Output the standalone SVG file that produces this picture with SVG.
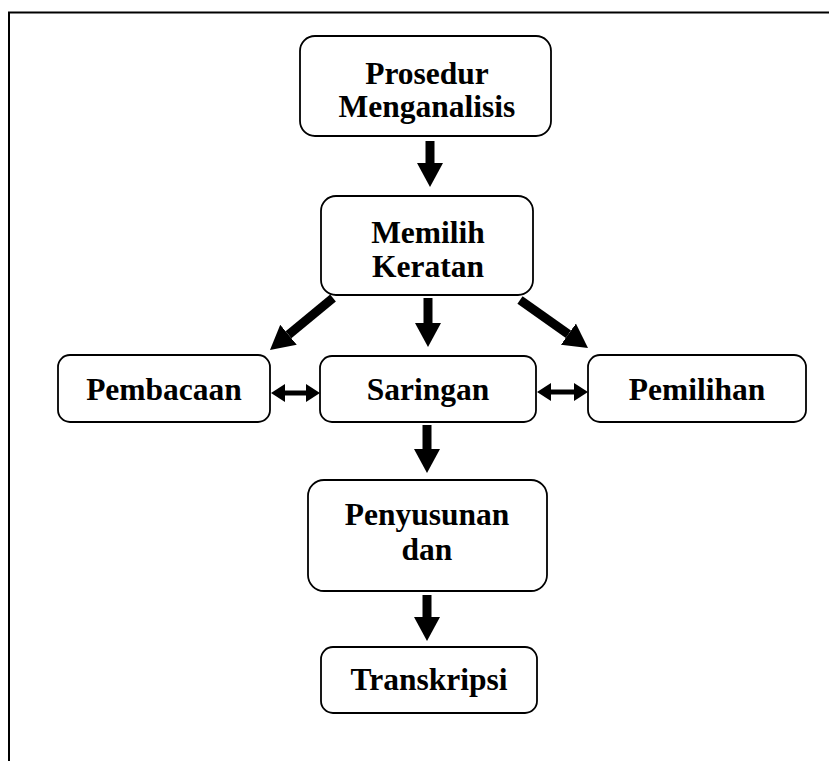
<svg xmlns="http://www.w3.org/2000/svg" width="829" height="761" viewBox="0 0 829 761">
<defs>
<style>
.box{fill:#fff;stroke:#000;stroke-width:1.8}
.t{font-family:"Liberation Serif","Times New Roman",serif;font-weight:bold;font-size:31.5px;fill:#000;text-anchor:middle}
.big{stroke:#000;stroke-width:9;fill:none}
.dbl{stroke:#000;stroke-width:5;fill:none}
</style>
<marker id="head" markerUnits="userSpaceOnUse" markerWidth="26" markerHeight="28" refX="0" refY="13" orient="auto" viewBox="0 0 26 26">
<path d="M0,0 L24,13 L0,26 z" fill="#000"/>
</marker>
<marker id="small" markerUnits="userSpaceOnUse" markerWidth="15" markerHeight="18" refX="0" refY="9" orient="auto-start-reverse" viewBox="0 0 15 18">
<path d="M0,0 L14,9 L0,18 z" fill="#000"/>
</marker>
</defs>
<rect width="829" height="761" fill="#fff"/>
<path d="M9,761 L9,12.5 L829,12.5" fill="none" stroke="#000" stroke-width="2"/>

<g id="n-prosedur">
<rect class="box" x="300" y="36" width="251" height="100" rx="15"/>
<text class="t" x="427" y="84">Prosedur</text>
<text class="t" x="427" y="117">Menganalisis</text>
</g>
<g id="n-memilih">
<rect class="box" x="321" y="196" width="212" height="99" rx="15"/>
<text class="t" x="428" y="243">Memilih</text>
<text class="t" x="428" y="277">Keratan</text>
</g>
<g id="n-pembacaan">
<rect class="box" x="58" y="355" width="212" height="67" rx="12"/>
<text class="t" x="164" y="400">Pembacaan</text>
</g>
<g id="n-saringan">
<rect class="box" x="320" y="356" width="216" height="66" rx="12"/>
<text class="t" x="428" y="400">Saringan</text>
</g>
<g id="n-pemilihan">
<rect class="box" x="588" y="355" width="218" height="67" rx="12"/>
<text class="t" x="697" y="400">Pemilihan</text>
</g>
<g id="n-penyusunan">
<rect class="box" x="308" y="480" width="239" height="111" rx="16"/>
<text class="t" x="427" y="525">Penyusunan</text>
<text class="t" x="427" y="560">dan</text>
</g>
<g id="n-transkripsi">
<rect class="box" x="321" y="647" width="216" height="66" rx="12"/>
<text class="t" x="429" y="690">Transkripsi</text>
</g>

<g id="connectors">
<line class="big" x1="430" y1="141" x2="430" y2="163" marker-end="url(#head)"/>
<line class="big" x1="428" y1="298" x2="428" y2="323" marker-end="url(#head)"/>
<line class="big" x1="427" y1="425" x2="427" y2="449" marker-end="url(#head)"/>
<line class="big" x1="427" y1="595" x2="427" y2="617" marker-end="url(#head)"/>
<line class="big" x1="333" y1="298" x2="288.5" y2="334.7" marker-end="url(#head)"/>
<line class="big" x1="520" y1="300" x2="568.4" y2="334.2" marker-end="url(#head)"/>
<line class="dbl" x1="285" y1="393" x2="306" y2="393" marker-start="url(#small)" marker-end="url(#small)"/>
<line class="dbl" x1="551" y1="392" x2="574" y2="392" marker-start="url(#small)" marker-end="url(#small)"/>
</g>
</svg>
